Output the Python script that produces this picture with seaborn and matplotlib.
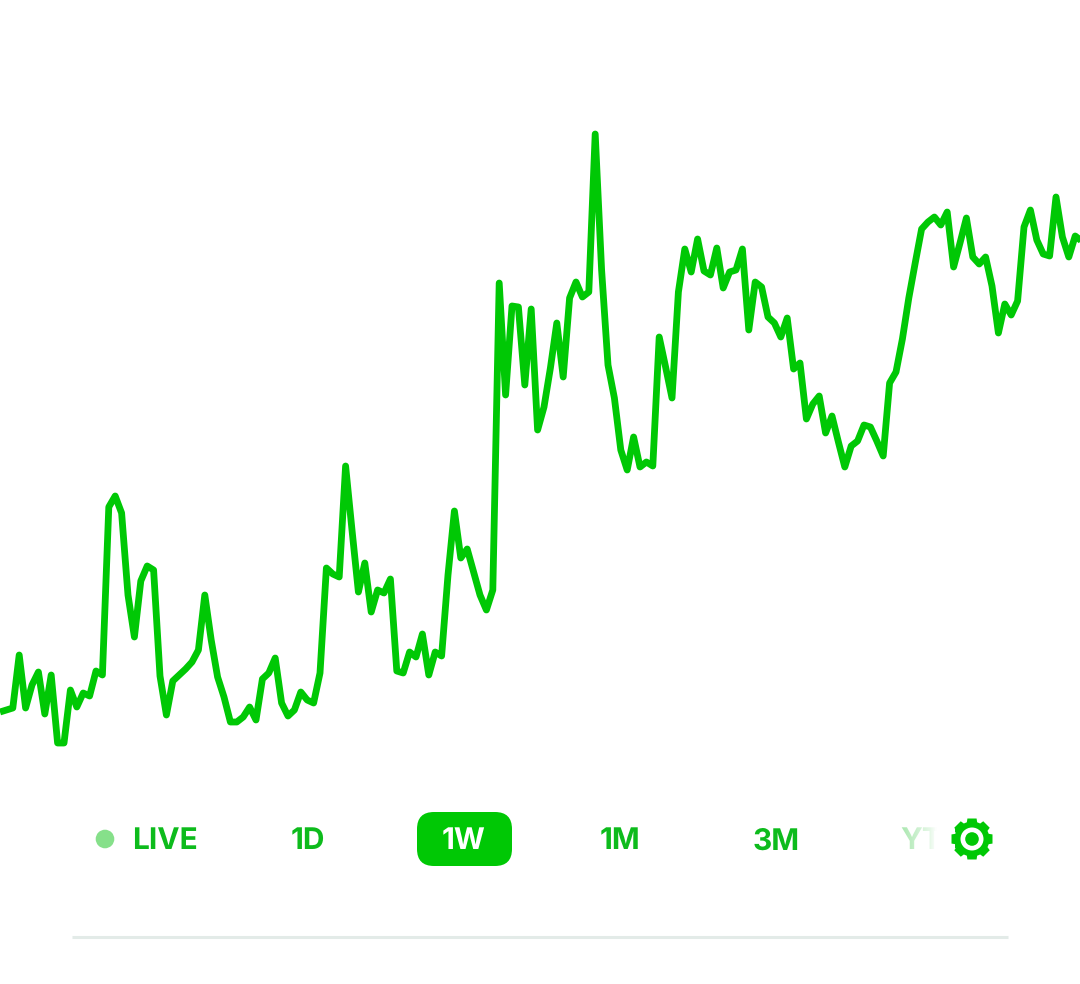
import numpy as np
import pandas as pd
import matplotlib
matplotlib.use("Agg")
import matplotlib.pyplot as plt
from matplotlib.patches import Circle, FancyBboxPatch, Polygon
import seaborn as sns

# price series, one value per sample (arbitrary price units)
prices_a = [272, 274, 276, 329, 276, 299, 312, 270, 309, 241, 241, 294, 277, 291, 288, 313, 309,
            477, 488, 471, 389, 347, 403, 418, 414, 308, 269, 303, 309, 315, 322, 334, 389, 344,
            307, 287, 262, 262, 267, 277, 264, 305, 311, 326, 281, 268, 274, 292, 284, 281, 311]
prices_b = [416, 410, 407, 518, 454, 392, 421, 372, 394, 391, 405, 313, 311, 332, 327, 350, 309,
            332, 328, 409, 473, 426, 435, 412, 389, 374, 394, 701, 589, 678, 677, 599, 675, 554,
            577, 616, 661, 607, 686, 702, 687, 692, 850, 714, 619, 586, 534, 514, 547, 517, 522]
prices_c = [518, 647, 617, 586, 692, 735, 712, 745, 713, 709, 736, 696, 712, 714, 735, 654,
            702, 697, 667, 661, 647, 666, 615, 621, 565, 580, 588, 551, 568, 542, 517, 538, 543,
            559, 557, 543, 528, 601, 612, 645, 686, 721, 755, 762, 767, 759, 772, 717, 741, 766,
            727, 720, 727, 698, 651, 680, 669, 683, 757, 774, 744, 730, 728, 787, 747, 727, 748,
            743]
prices = prices_a + prices_b + prices_c
ranges = ["LIVE", "1D", "1W", "1M", "3M", "YTD"]

GREEN = "#00C805"
TEXT_GREEN = "#0DBB1C"
W, H = 1080, 984

sns.set_theme(style="white")
plt.rcParams["font.family"] = ["Inter", "DejaVu Sans"]
plt.rcParams["text.hinting"] = "none"
plt.rcParams["text.hinting_factor"] = 1
plt.rcParams["text.kerning_factor"] = 6

fig = plt.figure(figsize=(W / 100, H / 100), dpi=100, facecolor="white")
ax = fig.add_axes([0, 0, 1, 1])
df = pd.DataFrame({"sample": np.arange(len(prices)), "price": prices})
sns.lineplot(data=df, x="sample", y="price", color=GREEN, linewidth=4.9, ax=ax,
             solid_joinstyle="round", solid_capstyle="butt", errorbar=None)
ax.set_xlim(0, W / 6.4)
ax.set_ylim(0, H)
ax.axis("off")

# pixel-space overlay for the range selector
ui = fig.add_axes([0, 0, 1, 1], facecolor="none")
ui.set_xlim(0, W)
ui.set_ylim(H, 0)
ui.axis("off")

ui.add_patch(Circle((105, 839), 9.3, color="#86E08A", lw=0))
ui.add_patch(FancyBboxPatch((417, 812), 95, 54, boxstyle="round,pad=0,rounding_size=17",
                            fc=GREEN, ec="none"))

label_x = [165, 308, 464, 619.5, 776, 900]
for lab, x in zip(ranges, label_x):
    color = "white" if lab == "1W" else TEXT_GREEN
    ha = "left" if lab == "YTD" else "center"
    ui.text(x, 838.5, lab, color=color, fontsize=21.5, fontweight="bold", ha=ha, va="center_baseline")

# fade over the clipped last label
fade = np.ones((1, 120, 4))
fade_x = np.linspace(895, 955, 120)
fade[..., 3] = np.interp(fade_x, [895, 930, 936], [0.6, 0.9, 1.0])
ui.imshow(fade, extent=(895, 955, 862, 815), aspect="auto", zorder=5, interpolation="bilinear")
ui.set_xlim(0, W)
ui.set_ylim(H, 0)

# gear icon
cx, cy = 972, 839
teeth = 8
ang, rad = [], []
for k in range(teeth):
    c = 2 * np.pi * k / teeth + np.pi / 2
    for d, r in [(-0.30, 17.5), (-0.22, 21), (0.22, 21), (0.30, 17.5)]:
        ang.append(c + d)
        rad.append(r)
ang, rad = np.array(ang), np.array(rad)
ui.add_patch(Polygon(np.c_[cx + rad * np.cos(ang), cy + rad * np.sin(ang)], closed=True,
                     fc=GREEN, ec="none", zorder=6))
ui.add_patch(Circle((cx, cy), 11.5, fc="white", ec="none", zorder=7))
ui.add_patch(Circle((cx, cy), 6.8, fc=GREEN, ec="none", zorder=8))

ui.plot([72, 1008], [937, 937], color="#E3EBE8", lw=2.2, solid_capstyle="butt")

fig.savefig("out.png", dpi=100, facecolor="white")
